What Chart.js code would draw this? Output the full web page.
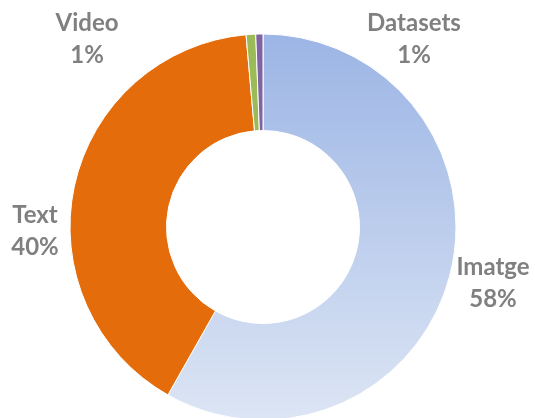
<!DOCTYPE html>
<html><head><meta charset="utf-8">
<script src="https://cdn.jsdelivr.net/npm/chart.js@4/dist/chart.umd.min.js"></script>
<style>html,body{margin:0;padding:0;background:#fff;overflow:hidden}#wrap{width:535px;height:418px;position:relative}</style>
</head><body><div id="wrap"><canvas id="c" width="535" height="418"></canvas></div>
<script>
const categories = ['Imatge', 'Text', 'Video', 'Datasets'];
const values = [58.2, 40.4, 0.8, 0.6];

const OUTER_R = 193;
const sliceColors = [null, '#E46C0A', '#9BBB59', '#8064A2'];
// label anchor positions (center x, first-line baseline)
const labelPos = {
  'Imatge':   [493, 275],
  'Text':     [35, 223],
  'Video':    [87, 31],
  'Datasets': [414, 31]
};

const total = values.reduce((a, b) => a + b, 0);

const labelPlugin = {
  id: 'outLabels',
  afterDraw(chart) {
    const ctx = chart.ctx;
    ctx.save();
    ctx.font = 'bold 24px Lato, "Open Sans", sans-serif';
    ctx.fillStyle = '#808080';
    ctx.textAlign = 'center';
    ctx.textBaseline = 'alphabetic';
    categories.forEach((cat, i) => {
      const p = labelPos[cat];
      const pct = Math.round(values[i] / total * 100) + '%';
      ctx.fillText(cat, p[0], p[1]);
      ctx.fillText(pct, p[0], p[1] + 32);
    });
    ctx.restore();
  }
};

new Chart(document.getElementById('c'), {
  type: 'doughnut',
  data: {
    labels: categories,
    datasets: [{
      data: values,
      backgroundColor: (c) => {
        if (c.dataIndex !== 0) return sliceColors[c.dataIndex];
        const ch = c.chart;
        const area = ch.chartArea;
        if (!area) return '#BCCCEC';
        const cy = (area.top + area.bottom) / 2;
        const g = ch.ctx.createLinearGradient(0, cy - OUTER_R, 0, cy + OUTER_R);
        g.addColorStop(0, '#9CB5E5');
        g.addColorStop(1, '#DCE5F4');
        return g;
      },
      borderColor: '#ffffff',
      borderWidth: 1
    }]
  },
  options: {
    responsive: false,
    animation: false,
    devicePixelRatio: 1,
    radius: OUTER_R,
    cutout: '50%',
    layout: { padding: { top: 36, bottom: 0, left: 0, right: 9 } },
    plugins: {
      legend: { display: false },
      tooltip: { enabled: false }
    }
  },
  plugins: [labelPlugin]
});
</script>
</body></html>
